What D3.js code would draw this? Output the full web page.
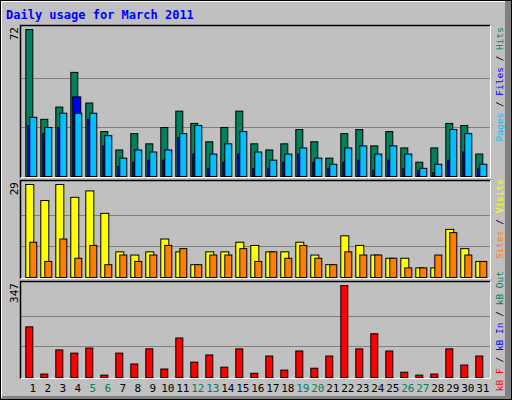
<!DOCTYPE html>
<html><head><meta charset="utf-8">
<script src="https://cdnjs.cloudflare.com/ajax/libs/d3/7.8.5/d3.min.js"></script>
<style>body{margin:0;background:#fff}svg{display:block}</style>
</head><body><svg id="c" width="512" height="400"></svg>
<script>
const days = d3.range(1, 32);
const weekends = [5, 6, 12, 13, 19, 20, 26, 27];
const hits  = [72,28,34,51,36,22,13,21,16,24,32,26,17,24,32,16,13,16,23,17,9,21,23,15,22,14,7,14,26,25,11];
const files = [29,24,31,31,31,20,9,13,12,13,21,25,11,16,22,12,8,11,14,9,6,14,15,11,15,11,4,6,23,21,6];
const pages = [25,21,24,39,28,15,5,7,8,8,19,11,4,7,11,4,4,7,11,7,4,7,8,3,8,4,3,2,8,12,4];
const visits = [29,24,29,25,27,20,8,7,8,12,8,4,8,8,11,10,8,8,11,7,4,13,10,7,6,6,3,3,15,9,5];
const sites  = [11,5,12,6,10,4,7,5,7,10,9,4,7,7,9,5,8,6,10,6,4,8,7,7,6,3,3,7,14,7,5];
const kbF = [191,13,104,92,111,9,92,51,108,32,149,58,85,39,108,16,81,28,100,35,81,347,108,165,100,20,9,13,108,47,81];

const svg = d3.select("#c");
const mono = "DejaVu Sans Mono, monospace";
svg.append("rect").attr("x",0).attr("y",0).attr("width",512).attr("height",400).attr("fill","#c0c0c0");
svg.append("rect").attr("x",505).attr("y",0).attr("width",7).attr("height",400).attr("fill","#808080");
svg.append("rect").attr("x",0).attr("y",396).attr("width",512).attr("height",4).attr("fill","#808080");
svg.append("rect").attr("x",0.5).attr("y",0.5).attr("width",511).attr("height",399).attr("fill","none").attr("stroke","#000");
svg.append("path").attr("d","M1.5,398V1.5H505").attr("fill","none").attr("stroke","#fff");
svg.append("text").attr("x",6).attr("y",19).attr("font-family",mono).attr("font-weight","bold").attr("font-size",12).attr("fill","#0000ff").text("Daily usage for March 2011");

const x = d3.scaleBand().domain(days).range([25.3, 25.3 + 31*15]).paddingInner(0).paddingOuter(0);

function panel(top, bottom, max, series, label, legend, legTop) {
  const y = d3.scaleLinear().domain([0, max]).range([bottom - 2, top + 4]);
  svg.append("rect").attr("x",20).attr("y",top).attr("width",471).attr("height",bottom-top).attr("fill","#c0c0c0");
  [max/3, 2*max/3].forEach(v => svg.append("line").attr("x1",21).attr("x2",490).attr("y1",Math.round(y(v))+0.5).attr("y2",Math.round(y(v))+0.5).attr("stroke","#808080"));
  series.forEach(s => {
    svg.append("g").selectAll("rect").data(days).join("rect")
      .attr("x", d => x(d) + s.off + 0.5)
      .attr("width", s.w)
      .attr("y", (d,i) => y(s.data[i]) + 0.5)
      .attr("height", (d,i) => Math.max(0, y(0) - y(s.data[i])))
      .attr("fill", s.color).attr("stroke","#000").attr("stroke-width",1);
  });
  svg.append("path").attr("d",`M20.5,${bottom}V${top+0.5}H491`).attr("fill","none").attr("stroke","#000").attr("stroke-width",1.5);
  svg.append("path").attr("d",`M20.5,${bottom-0.5}H490.5V${top}`).attr("fill","none").attr("stroke","#fff");
  svg.append("text").attr("transform",`translate(18,${top+2}) rotate(-90)`).attr("text-anchor","end")
    .attr("font-family",mono).attr("font-size",11).attr("fill","#000").text(label);
  const t = svg.append("text").attr("transform",`translate(503,${legTop}) rotate(-90)`).attr("text-anchor","end")
    .attr("font-family",mono).attr("font-size",9.5);
  legend.forEach((p,i) => { if (i) t.append("tspan").attr("fill","#000").text(" / "); t.append("tspan").attr("fill",p[1]).text(p[0]); });
}

panel(25, 178, 72, [
  {data: hits, color: "#00805c", off: 0, w: 7},
  {data: pages, color: "#0000ff", off: 2, w: 8},
  {data: files, color: "#00c0ff", off: 4, w: 7}
], "72", [["Pages","#00c0ff"],["Files","#0000ff"],["Hits","#00805c"]], 27);

panel(180, 279, 29, [
  {data: visits, color: "#ffff00", off: 0, w: 8},
  {data: sites, color: "#ff8000", off: 4, w: 7}
], "29", [["Sites","#ff8000"],["Visits","#ffff00"]], 179);

panel(281, 379, 347, [
  {data: kbF, color: "#ff0000", off: 0, w: 7}
], "347", [["kB F","#ff0000"],["kB In","#0000ff"],["kB Out","#00805c"]], 271);

svg.append("g").selectAll("text").data(days).join("text")
  .attr("x", d => x(d) + 7.5).attr("y", 392).attr("text-anchor","middle")
  .attr("font-family",mono).attr("font-size",11)
  .attr("fill", d => weekends.includes(d) ? "#00805c" : "#000").text(d => d);
</script></body></html>
